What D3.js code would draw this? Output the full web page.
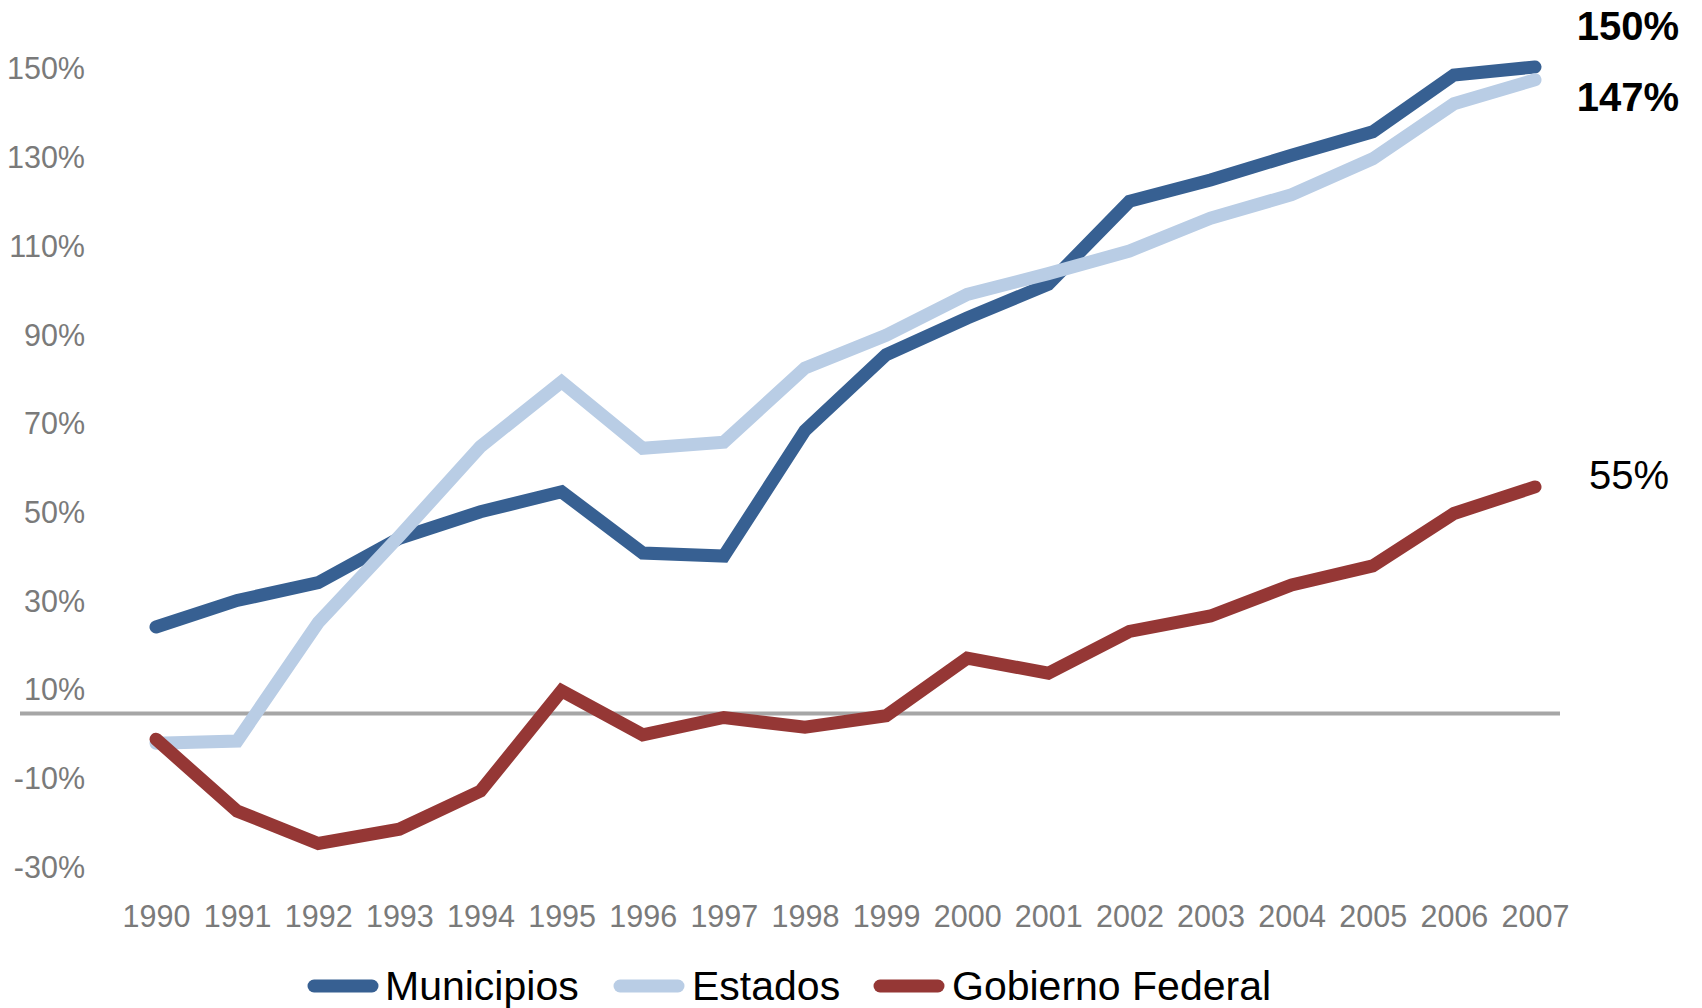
<!DOCTYPE html>
<html>
<head>
<meta charset="utf-8">
<script src="https://cdn.jsdelivr.net/npm/d3@7"></script>
<style>
  html, body { margin: 0; padding: 0; background: #ffffff; }
  svg { display: block; }
</style>
</head>
<body>
<svg id="chart" width="1702" height="1008"></svg>
<script>
// ---- data ----
const years = [1990,1991,1992,1993,1994,1995,1996,1997,1998,1999,2000,2001,2002,2003,2004,2005,2006,2007];
const municipios = [24, 30, 34, 44, 50, 54.5, 40.7, 40, 68.3, 85.4, 93.7, 101.3, 120, 124.8, 130.4, 135.7, 148.5, 150.3];
const estados    = [-2.2, -1.7, 25, 44.5, 64.7, 79.3, 64.3, 65.7, 82.4, 89.8, 99, 103.7, 108.8, 116.2, 121.5, 129.6, 142, 147.4];
const federal    = [-1.3, -17.5, -24.8, -21.6, -13, 9.6, -0.3, 3.6, 1.4, 4, 17, 13.6, 23, 26.5, 33.5, 37.8, 49.6, 55.6];
const seriesNames = ["Municipios", "Estados", "Gobierno Federal"];
const seriesColors = ["#376092", "#B9CDE5", "#953735"];
const yTicks = [-30, -10, 10, 30, 50, 70, 90, 110, 130, 150];
const refValue = 4.5;
const endLabels = ["150%", "147%", "55%"];

// ---- layout ----
const svg = d3.select("#chart");
const x = d3.scalePoint().domain(years).range([156, 1535]);
const y = d3.scaleLinear().domain([-30, 150]).range([866.5, 68.3]);

// y axis labels
const yAxis = d3.axisLeft(y).tickValues(yTicks).tickSize(0).tickPadding(0).tickFormat(d => d + "%");
const gy = svg.append("g").attr("transform", "translate(85,0)").call(yAxis);
gy.select(".domain").remove();
gy.selectAll("text")
  .attr("font-family", "'Liberation Sans', Arial, sans-serif")
  .attr("font-size", 30.5)
  .attr("fill", "#7a7a7a")
  .attr("dy", "0.35em");

// x axis labels
const xAxis = d3.axisBottom(x).tickSize(0).tickPadding(0).tickFormat(d => String(d));
const gx = svg.append("g").attr("transform", "translate(0,916)").call(xAxis);
gx.select(".domain").remove();
gx.selectAll("text")
  .attr("font-family", "'Liberation Sans', Arial, sans-serif")
  .attr("font-size", 30.5)
  .attr("fill", "#7a7a7a")
  .attr("dy", "0.35em");

// reference line
svg.append("line")
  .attr("x1", 20).attr("x2", 1560)
  .attr("y1", y(refValue)).attr("y2", y(refValue))
  .attr("stroke", "#A6A6A6").attr("stroke-width", 4);

// series lines
const allSeries = [municipios, estados, federal];
const line = d3.line().x((d, i) => x(years[i])).y(d => y(d));
allSeries.forEach((vals, k) => {
  svg.append("path")
    .datum(vals)
    .attr("d", line)
    .attr("fill", "none")
    .attr("stroke", seriesColors[k])
    .attr("stroke-width", 13)
    .attr("stroke-linejoin", "miter")
    .attr("stroke-linecap", "round");
});

// end labels
const endLabelPos = [
  {x: 1628, yv: 26, bold: true},
  {x: 1628, yv: 97, bold: true},
  {x: 1629, yv: 475, bold: false}
];
endLabels.forEach((t, k) => {
  svg.append("text")
    .attr("x", endLabelPos[k].x)
    .attr("y", endLabelPos[k].yv)
    .attr("dy", "0.35em")
    .attr("text-anchor", "middle")
    .attr("font-family", "'Liberation Sans', Arial, sans-serif")
    .attr("font-size", 40)
    .attr("font-weight", endLabelPos[k].bold ? "bold" : "normal")
    .attr("fill", "#000000")
    .text(t);
});

// legend
const legendItems = [
  {sx: 314, tx: 385},
  {sx: 620, tx: 692},
  {sx: 880, tx: 952}
];
const legendY = 986;
seriesNames.forEach((name, k) => {
  svg.append("line")
    .attr("x1", legendItems[k].sx).attr("x2", legendItems[k].sx + 58)
    .attr("y1", legendY).attr("y2", legendY)
    .attr("stroke", seriesColors[k])
    .attr("stroke-width", 13)
    .attr("stroke-linecap", "round");
  svg.append("text")
    .attr("x", legendItems[k].tx)
    .attr("y", legendY)
    .attr("dy", "0.35em")
    .attr("font-family", "'Liberation Sans', Arial, sans-serif")
    .attr("font-size", 41)
    .attr("fill", "#000000")
    .text(name);
});
</script>
</body>
</html>
